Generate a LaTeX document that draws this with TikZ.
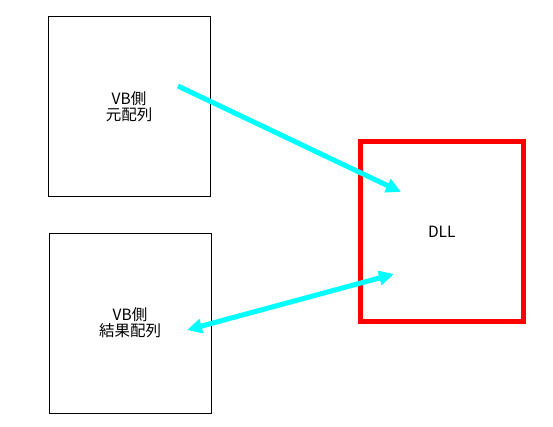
\documentclass[tikz,border=0pt]{standalone}
\usepackage{fontspec}
\newfontfamily\jpfont{Noto Sans CJK JP}
\usetikzlibrary{arrows.meta, positioning}
\definecolor{Ink}{HTML}{000000}
\definecolor{DllRed}{HTML}{FF0000}
\definecolor{Flow}{HTML}{00FFFF}
\tikzset{
    arraybox/.style={rectangle, draw=Ink, line width=1pt, minimum width=162pt, minimum height=180pt, inner sep=0pt, align=center, font=\jpfont\fontsize{15.5}{16}\selectfont},
    dllbox/.style={rectangle, draw=DllRed, line width=5pt, minimum width=162.5pt, minimum height=180pt, inner sep=0pt, align=center, font=\jpfont\fontsize{15.5}{16}\selectfont},
    flow/.style={draw=Flow, line width=5pt},
    flowtip/.tip={Triangle[length=15pt, width=14pt]},
}

\begin{document}
\begin{tikzpicture}[x=1pt, y=-1pt]
        \useasboundingbox (0,0) rectangle (553,426);

        % --- Boxes ---
        \node[arraybox] (src) at (129,106.5) {VB側\\元配列};
        \node[arraybox] (res) at (130,323) {VB側\\結果配列};
        \node[dllbox]   (dll) at (441.75,231.5) {DLL};

        % Arrow ends
        \coordinate (srcout) at (178,86);
        \coordinate (dllin)  at (401,192);
        \coordinate (resio)  at (187,330);
        \coordinate (dllio)  at (394,274);

        % --- Data flow ---
        \draw[flow, -flowtip] (srcout) -- (dllin);
        \draw[flow, flowtip-flowtip] (resio) -- (dllio);
    \end{tikzpicture}
\end{document}
